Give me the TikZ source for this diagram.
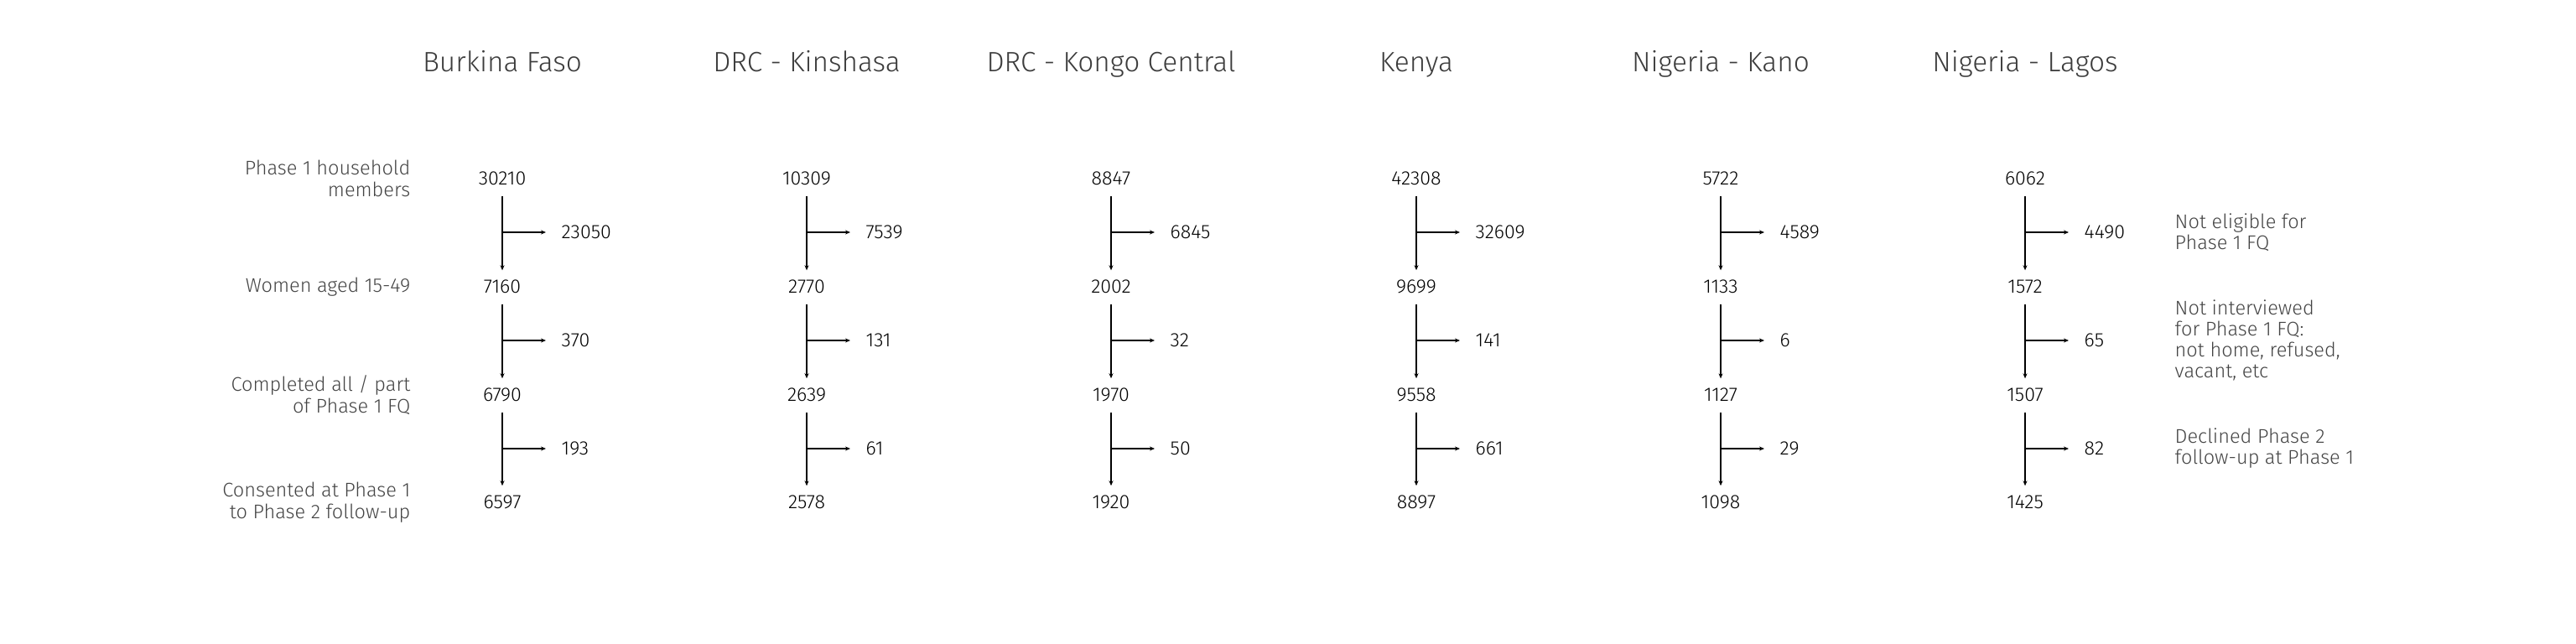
\documentclass[tikz,border=0pt]{standalone}
\usepackage{fontspec}
\setmainfont{Fira Sans Light}
\usetikzlibrary{arrows.meta}
\definecolor{titlegray}{HTML}{3C3C3C}
\definecolor{labelgray}{HTML}{444444}
\tikzset{
  num/.style={inner sep=0pt, text=black, font=\fontsize{6.6}{7.5}\selectfont},
  country/.style={inner sep=0pt, anchor=base, text=titlegray, font=\fontsize{9.5}{11}\selectfont},
  rowlabel/.style={inner sep=0pt, text=labelgray, align=right, anchor=east, font=\fontsize{6.7}{7.3}\selectfont},
  reason/.style={inner sep=0pt, text=labelgray, align=left, anchor=west, font=\fontsize{6.7}{7.1}\selectfont},
  flow/.style={line width=0.35pt, -{Stealth[length=0.06cm,width=0.05cm]}},
}
\begin{document}
\begin{tikzpicture}
	\useasboundingbox (0,0) rectangle (30.72,-7.68);
	% one column per country
	\foreach \x/\place/\a/\b/\c/\d/\e/\f/\g [count=\i] in {
		5.99/Burkina Faso/30210/23050/7160/370/6790/193/6597,
		9.62/DRC - Kinshasa/10309/7539/2770/131/2639/61/2578,
		13.25/DRC - Kongo Central/8847/6845/2002/32/1970/50/1920,
		16.89/Kenya/42308/32609/9699/141/9558/661/8897,
		20.52/Nigeria - Kano/5722/4589/1133/6/1127/29/1098,
		24.15/Nigeria - Lagos/6062/4490/1572/65/1507/82/1425}{
		\node[country] (t\i) at (\x,-0.85) {\place};
		\node[num] (n\i-1) at (\x,-2.13) {\a};
		\node[num] (n\i-2) at (\x,-3.42) {\c};
		\node[num] (n\i-3) at (\x,-4.71) {\e};
		\node[num] (n\i-4) at (\x,-5.99) {\g};
		\coordinate (j\i-1) at (\x,-2.77);
		\coordinate (j\i-2) at (\x,-4.06);
		\coordinate (j\i-3) at (\x,-5.35);
		\node[num, anchor=west] (s\i-1) at (\x+0.70,-2.77) {\b};
		\node[num, anchor=west] (s\i-2) at (\x+0.70,-4.06) {\d};
		\node[num, anchor=west] (s\i-3) at (\x+0.70,-5.35) {\f};
		\draw[flow, shorten <=0.12cm, shorten >=0.11cm] (n\i-1.south) -- (n\i-2.north);
		\draw[flow, shorten <=0.12cm, shorten >=0.11cm] (n\i-2.south) -- (n\i-3.north);
		\draw[flow, shorten <=0.12cm, shorten >=0.11cm] (n\i-3.south) -- (n\i-4.north);
		\draw[flow, shorten >=0.18cm] (j\i-1) -- (s\i-1.west);
		\draw[flow, shorten >=0.18cm] (j\i-2) -- (s\i-2.west);
		\draw[flow, shorten >=0.18cm] (j\i-3) -- (s\i-3.west);
	}
	% row labels
	\node[rowlabel] (l1) at (4.90,-2.13) {Phase 1 household\\members};
	\node[rowlabel] (l2) at (4.90,-3.42) {Women aged 15-49};
	\node[rowlabel] (l3) at (4.90,-4.71) {Completed all / part\\of Phase 1 FQ};
	\node[rowlabel] (l4) at (4.90,-5.99) {Consented at Phase 1\\to Phase 2 follow-up};
	% reasons for loss
	\node[reason] (r1) at (25.93,-2.77) {Not eligible for\\Phase 1 FQ};
	\node[reason] (r2) at (25.93,-4.06) {Not interviewed\\for Phase 1 FQ:\\not home, refused,\\vacant, etc};
	\node[reason] (r3) at (25.93,-5.35) {Declined Phase 2\\follow-up at Phase 1};
\end{tikzpicture}
\end{document}
